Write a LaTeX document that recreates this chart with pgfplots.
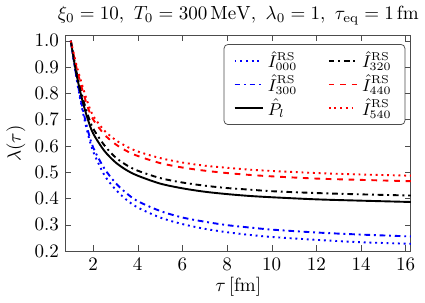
\documentclass[border=0pt]{standalone}
\usepackage{pgfplots}
\pgfplotsset{compat=1.18}
\begin{document}
\begin{tikzpicture}
\begin{axis}[
  scale only axis,
  width=181.5pt, height=113.4pt,
  xmin=0.77, xmax=16.23, ymin=0.2, ymax=1.02,
  xtick={2,4,...,16}, ytick={0.2,0.3,...,1.0},
  yticklabel style={/pgf/number format/.cd,fixed,fixed zerofill,precision=1},
  tick align=inside, tick pos=both,
  major tick length=3pt,
  axis line style={gray!60!black},
  tick style={gray!60!black},
  title={$\xi_0 = 10,\ T_0 = 300\,\mathrm{MeV},\ \lambda_0 = 1,\ \tau_{\mathrm{eq}} = 1\,\mathrm{fm}$},
  title style={yshift=-4pt},
  xlabel={$\tau\,[\mathrm{fm}]$},
  ylabel={$\lambda(\tau)$},
  xlabel style={yshift=3pt},
  ylabel style={yshift=-2pt},
  legend columns=2,
  legend cell align=left,
  legend image code/.code={\draw[#1] (0pt,0pt) -- (15pt,0pt);},
  legend style={at={(0.984,0.96)}, anchor=north east, draw=gray!60!black, rounded corners=2pt,
    font=\small,
    /tikz/every even column/.append style={column sep=14pt}, row sep=-1.5pt,
    inner xsep=5pt, inner ysep=1.5pt},
  every axis plot/.append style={line width=1pt, smooth},
]
\addplot[blue, dotted] coordinates {(1,1.0)(1.25,0.86)(1.5,0.745)(1.75,0.652)(2,0.58)(2.5,0.49)(3,0.435)(3.5,0.395)(4,0.366)(5,0.328)(6,0.303)(7,0.285)(8,0.272)(9,0.262)(10,0.254)(12,0.243)(14,0.234)(16.23,0.228)};
\addlegendentry{$\hat{I}^{\mathrm{RS}}_{000}$}
\addplot[black, dash dot] coordinates {(1,1.0)(1.25,0.885)(1.5,0.795)(1.75,0.722)(2,0.667)(2.5,0.603)(3,0.557)(3.5,0.527)(4,0.506)(5,0.478)(6,0.461)(7,0.449)(8,0.44)(9,0.434)(10,0.428)(12,0.421)(14,0.416)(16.23,0.4115)};
\addlegendentry{$\hat{I}^{\mathrm{RS}}_{320}$}
\addplot[blue, dash dot] coordinates {(1,1.0)(1.25,0.865)(1.5,0.755)(1.75,0.665)(2,0.595)(2.5,0.515)(3,0.46)(3.5,0.42)(4,0.39)(5,0.353)(6,0.328)(7,0.312)(8,0.299)(9,0.29)(10,0.282)(12,0.271)(14,0.263)(16.23,0.256)};
\addlegendentry{$\hat{I}^{\mathrm{RS}}_{300}$}
\addplot[red, dashed] coordinates {(1,1.0)(1.25,0.90)(1.5,0.82)(1.75,0.75)(2,0.701)(2.5,0.644)(3,0.607)(3.5,0.581)(4,0.562)(5,0.535)(6,0.518)(7,0.506)(8,0.497)(9,0.49)(10,0.4845)(12,0.476)(14,0.471)(16.23,0.466)};
\addlegendentry{$\hat{I}^{\mathrm{RS}}_{440}$}
\addplot[black, solid] coordinates {(1,1.0)(1.25,0.875)(1.5,0.78)(1.75,0.705)(2,0.648)(2.5,0.582)(3,0.538)(3.5,0.508)(4,0.487)(5,0.457)(6,0.439)(7,0.426)(8,0.417)(9,0.41)(10,0.405)(12,0.397)(14,0.392)(16.23,0.387)};
\addlegendentry{$\hat{P}_l$}
\addplot[red, dotted] coordinates {(1,1.0)(1.25,0.91)(1.5,0.835)(1.75,0.767)(2,0.715)(2.5,0.659)(3,0.623)(3.5,0.598)(4,0.579)(5,0.554)(6,0.537)(7,0.525)(8,0.517)(9,0.51)(10,0.505)(12,0.497)(14,0.4915)(16.23,0.487)};
\addlegendentry{$\hat{I}^{\mathrm{RS}}_{540}$}
\end{axis}
\end{tikzpicture}
\end{document}
